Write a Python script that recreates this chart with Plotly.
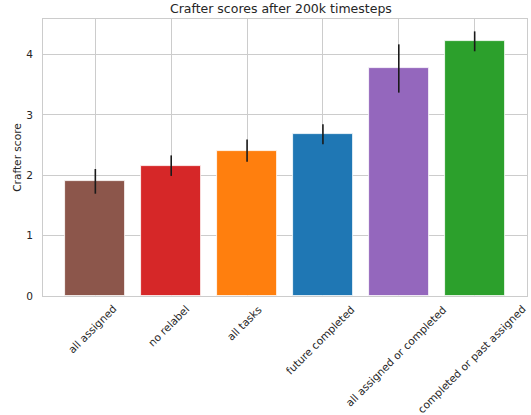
import plotly.graph_objects as go

categories = ["all assigned", "no relabel", "all tasks", "future completed",
              "all assigned or completed", "completed or past assigned"]
scores = [1.90, 2.16, 2.41, 2.68, 3.77, 4.22]
errors = [0.205, 0.17, 0.185, 0.165, 0.40, 0.165]
colors = ["#8c564b", "#d62728", "#ff7f0e", "#1f77b4", "#9467bd", "#2ca02c"]
y_ticks = [0, 1, 2, 3, 4]

font_family = "DejaVu Sans"
text_color = "#262626"
fs = 10.6

fig = go.Figure()
fig.add_trace(go.Bar(
    x=list(range(len(categories))),
    y=scores,
    width=0.79,
    marker=dict(color=colors, line=dict(color="white", width=0.8)),
    error_y=dict(type="data", array=errors, visible=True, width=0,
                 thickness=1.6, color="#1a1a1a"),
    showlegend=False,
))

for i, label in enumerate(categories):
    fig.add_annotation(
        x=i, xref="x", y=0, yref="paper",
        text=label, showarrow=False, textangle=-45,
        xanchor="center", yanchor="top", yshift=-4, xshift=-3,
        font=dict(family=font_family, size=fs, color=text_color),
    )

fig.update_layout(
    width=531, height=415,
    margin=dict(l=43, r=4, t=19, b=119),
    plot_bgcolor="white", paper_bgcolor="white",
    title=dict(text="Crafter scores after 200k timesteps", x=0.529, xanchor="center",
               y=1 - 4 / 415, yanchor="top",
               font=dict(family=font_family, size=12.5, color=text_color)),
    font=dict(family=font_family, size=fs, color=text_color),
    bargap=0,
)
fig.update_xaxes(
    tickmode="array", tickvals=list(range(len(categories))),
    showticklabels=False, automargin=False,
    range=[-0.69, 5.69],
    showgrid=True, gridcolor="#cccccc", gridwidth=1,
    showline=True, linecolor="#cccccc", linewidth=1, mirror=True,
    ticks="", zeroline=False,
)
fig.update_yaxes(
    title=dict(text="Crafter score", standoff=2,
               font=dict(family=font_family, size=fs, color=text_color)),
    tickmode="array", tickvals=y_ticks, range=[0, 4.59], automargin=False,
    showgrid=True, gridcolor="#cccccc", gridwidth=1,
    showline=True, linecolor="#cccccc", linewidth=1, mirror=True,
    ticks="outside", ticklen=7, tickcolor="rgba(0,0,0,0)", zeroline=False,
    tickfont=dict(family=font_family, size=fs, color=text_color),
)

fig.write_html("out.html", config={"displayModeBar": False},
               post_script="document.body.style.margin='0';")
